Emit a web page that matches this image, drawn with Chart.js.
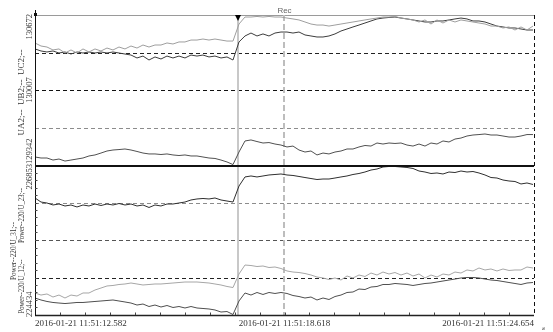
<!DOCTYPE html>
<html>
<head>
<meta charset="utf-8">
<script src="https://cdn.jsdelivr.net/npm/chart.js@4/dist/chart.umd.min.js"></script>
<style>
  html, body { margin: 0; padding: 0; background: #fff; }
  #wrap { width: 553px; height: 332px; }
</style>
</head>
<body>
<div id="wrap"><canvas id="rec" width="553" height="332"></canvas></div>
<script>
// Recorder capture 2016-01-21 11:51:12.582 .. 11:51:24.654 (seconds of minute 11:51)
const T_START = 12.582;
const T_END = 24.654;
const SAMPLE_STEP = 0.14515; // s between samples

const CURSOR_T = 17.469;   // solid cursor with marker
const REF_T = 18.618;      // dashed reference cursor ("Rec")

// ---- upper panel: UA2 / UB2 / UC2 --------------------------------
const ua2 = [130424,130397,130388,130362,130371,130335,130362,130335,130371,130344,
  130371,130353,130379,130362,130388,130371,130397,130379,130406,130388,
  130406,130406,130424,130415,130433,130433,130450,130450,130459,130450,
  130459,130450,130441,130441,130592,130654,130654,130659,130654,130659,
  130654,130654,130645,130637,130628,130610,130592,130583,130583,130574,
  130583,130592,130601,130610,130619,130628,130637,130645,130654,130654,
  130659,130645,130637,130628,130610,130628,130592,130628,130601,130628,
  130610,130628,130619,130610,130601,130592,130574,130574,130557,130566,
  130539,130566,130539,130574];
const ub2 = [130371,130353,130344,130353,130335,130344,130326,130344,130335,130344,
  130335,130344,130335,130344,130335,130326,130317,130291,130308,130273,
  130300,130282,130308,130291,130308,130291,130317,130308,130317,130300,
  130308,130291,130300,130273,130433,130486,130512,130486,130504,130486,
  130512,130521,130521,130512,130521,130495,130486,130477,130477,130486,
  130504,130530,130548,130566,130583,130601,130619,130637,130645,130650,
  130654,130645,130637,130628,130619,130610,130610,130619,130619,130628,
  130637,130645,130637,130619,130619,130610,130592,130574,130566,130557,
  130557,130548,130539,130539];
const uc2 = [129413,129404,129404,129386,129395,129377,129386,129395,129404,129422,
  129431,129448,129466,129475,129479,129484,129475,129462,129448,129440,
  129440,129435,129440,129431,129426,129431,129422,129422,129413,129404,
  129400,129386,129369,129346,129457,129555,129564,129550,129537,129541,
  129528,129519,129502,129510,129475,129457,129466,129431,129448,129440,
  129457,129466,129484,129484,129502,129515,129510,129537,129528,129537,
  129533,129537,129519,129510,129528,129510,129537,129528,129555,129546,
  129572,129581,129599,129608,129612,129617,129608,129608,129599,129590,
  129590,129599,129612,129612];

// ---- lower panel: Power-220/U_12 / U_23 / U_31 --------------------
const u23 = [226321,226256,226240,226208,226224,226192,226208,226176,226208,226192,
  226224,226200,226224,226208,226232,226208,226224,226192,226208,226168,
  226208,226192,226224,226224,226240,226256,226289,226305,226313,226305,
  226321,226289,226272,226256,226514,226660,226676,226660,226676,226692,
  226700,226708,226692,226684,226668,226651,226635,226619,226627,226627,
  226643,226660,226676,226700,226716,226740,226772,226788,226821,226829,
  226829,226821,226813,226797,226756,226740,226716,226724,226708,226740,
  226732,226756,226740,226748,226724,226692,226651,226643,226611,226595,
  226587,226547,226563,226539];
const u31 = [224789,224756,224773,224724,224756,224708,224756,224740,224789,224789,
  224837,224869,224902,224910,224926,224934,224950,224934,224918,224926,
  224934,224934,224942,224950,224958,224966,224966,224966,224958,224950,
  224934,224918,224894,224877,225095,225240,225232,225216,225224,225200,
  225208,225184,225144,225127,225119,225103,225079,225047,225031,225006,
  225031,224998,225063,225031,225079,225055,225111,225079,225127,225095,
  225119,225079,225111,225063,225095,225031,225079,225047,225095,225079,
  225127,225111,225160,225144,225192,225160,225176,225144,225176,225152,
  225160,225160,225208,225192];
const u12 = [224708,224676,224652,224636,224627,224619,224627,224636,224636,224644,
  224652,224660,224668,224676,224660,224644,224627,224595,224611,224571,
  224595,224563,224587,224555,224571,224547,224571,224547,224539,224531,
  224515,224482,224490,224442,224660,224789,224756,224797,224765,224797,
  224781,224797,224781,224748,224732,224708,224724,224676,224708,224684,
  224732,224756,224797,224805,224853,224845,224885,224894,224926,224926,
  224942,224934,224926,224910,224926,224942,224950,224966,224982,224998,
  225014,225031,225039,225039,225031,225014,224998,224990,224974,224958,
  224942,224926,224950,224958];

// axis ticks (min -> max) and their printed labels
const topTicks = [129342, 129674.5, 130007, 130339.5, 130672];
const botTicks = [224434, 225038.75, 225643.5, 226248.25, 226853];
const topLegend = "UA2;--  UB2;--  UC2;--";
const botLegend = ["Power--220/U_12;--", "Power--220/U_23;--", "Power--220/U_31;--"];
const xTickTimes = [T_START, REF_T, T_END];
const xTickLabels = ["2016-01-21 11:51:12.582", "2016-01-21 11:51:18.618", "2016-01-21 11:51:24.654"];

// guide-line look per tick index (null = not drawn here)
const TOP_GUIDES = [null, { c: "#8c8c8c", d: [4, 3] }, { c: "#111", d: [4, 3] }, { c: "#222", d: [4, 3] }, { c: "#9a9a9a", d: [] }];
const BOT_GUIDES = [null, { c: "#222", d: [4, 3] }, { c: "#555", d: [4, 3] }, { c: "#8c8c8c", d: [4, 3] }, null];

const SERIF = "'Liberation Serif', 'DejaVu Serif', serif";
const SANS = "'Liberation Sans', 'DejaVu Sans', sans-serif";

function trace(label, values, axis, color) {
  return {
    label,
    data: values.map((v, i) => ({ x: T_START + i * SAMPLE_STEP, y: v })),
    yAxisID: axis,
    borderColor: color,
    borderWidth: 1,
    pointRadius: 0,
    tension: 0,
  };
}

const snap = (p) => Math.round(p) + 0.5;

function line(ctx, x0, y0, x1, y1, color, width, dash) {
  ctx.beginPath();
  ctx.setLineDash(dash || []);
  ctx.strokeStyle = color;
  ctx.lineWidth = width;
  ctx.moveTo(x0, y0);
  ctx.lineTo(x1, y1);
  ctx.stroke();
}

function upText(ctx, text, x, y, align, maxW) {
  ctx.save();
  ctx.translate(x, y);
  ctx.rotate(-Math.PI / 2);
  ctx.textAlign = align;
  ctx.textBaseline = "middle";
  if (maxW) ctx.fillText(text, 0, 0, maxW);
  else ctx.fillText(text, 0, 0);
  ctx.restore();
}

const recorderDecor = {
  id: "recorderDecor",
  beforeDatasetsDraw(chart) {
    const { ctx, chartArea: a, scales } = chart;
    ctx.save();
    // horizontal guides
    [[scales.yTop, topTicks, TOP_GUIDES], [scales.yBot, botTicks, BOT_GUIDES]].forEach(([sc, ticks, guides]) => {
      ticks.forEach((v, i) => {
        const g = guides[i];
        if (!g) return;
        const y = snap(sc.getPixelForValue(v));
        line(ctx, a.left, y, a.right, y, g.c, 1, g.d);
      });
    });
    // cursors
    const xc = Math.round(scales.x.getPixelForValue(CURSOR_T)) + 1;
    line(ctx, xc, a.top, xc, a.bottom, "#c8c8c8", 2, []);
    const xr = Math.round(scales.x.getPixelForValue(REF_T));
    line(ctx, xr, a.top, xr, a.bottom, "#bdbdbd", 2, [6, 3]);
    ctx.restore();
  },
  afterDatasetsDraw(chart) {
    const { ctx, chartArea: a, scales } = chart;
    const { x: xs, yTop, yBot } = scales;
    ctx.save();
    // frame
    line(ctx, snap(a.right), a.top, snap(a.right), a.bottom, "#111", 1, [4, 3]);
    line(ctx, a.left, yTop.bottom + 1, a.right, yTop.bottom + 1, "#111", 2, []);
    line(ctx, a.left, snap(a.bottom), a.right, snap(a.bottom), "#222", 1.5, []);
    line(ctx, snap(a.left), a.top - 5, snap(a.left), a.bottom + 1, "#111", 1, []);
    ctx.fillStyle = "#111";
    ctx.fillRect(a.left - 1, a.top - 2, 3, 3);

    // minor ticks, pointing inward
    for (let k = 1; k < 20; k++) {
      const px = snap(xs.getPixelForValue(T_START + (T_END - T_START) * k / 20));
      line(ctx, px, a.bottom, px, a.bottom - 2.5, "#444", 1, []);
      const py = snap(yBot.getPixelForValue(botTicks[0] + (botTicks[4] - botTicks[0]) * k / 20));
      line(ctx, a.left, py, a.left + 2.5, py, "#444", 1, []);
    }

    // cursor marker
    const xc = Math.round(xs.getPixelForValue(CURSOR_T)) + 1;
    ctx.beginPath();
    ctx.moveTo(xc - 3, a.top);
    ctx.lineTo(xc + 3, a.top);
    ctx.lineTo(xc, a.top + 6);
    ctx.closePath();
    ctx.fillStyle = "#000";
    ctx.fill();

    // "Rec" over the reference cursor
    ctx.fillStyle = "#666";
    ctx.font = "8px " + SANS;
    ctx.textAlign = "center";
    ctx.textBaseline = "alphabetic";
    ctx.fillText("Rec", xs.getPixelForValue(REF_T), 13);

    // time labels
    ctx.fillStyle = "#333";
    ctx.font = "9px " + SERIF;
    const aligns = ["left", "center", "right"];
    xTickTimes.forEach((t, i) => {
      ctx.textAlign = aligns[i];
      ctx.fillText(xTickLabels[i], xs.getPixelForValue(t), 326);
    });
    ctx.font = "7px " + SERIF;
    upText(ctx, "s", 543, 330, "left");

    // y labels
    ctx.font = "8.5px " + SERIF;
    upText(ctx, String(topTicks[4]), 30, yTop.top - 1, "right");
    upText(ctx, String(topTicks[2]), 30, yTop.getPixelForValue(topTicks[2]), "center");
    upText(ctx, String(topTicks[0]), 30, yTop.bottom - 1, "left");
    upText(ctx, String(botTicks[4]), 30, yBot.top - 1, "right");
    upText(ctx, String(botTicks[0]), 30, yBot.bottom + 2, "left");
    ctx.font = "9px " + SERIF;
    upText(ctx, topLegend, 22, 92.5, "center", 86);
    upText(ctx, botLegend[0], 22, 286.5, "center", 54);
    upText(ctx, botLegend[1], 22, 215.5, "center", 55);
    upText(ctx, botLegend[2], 14, 251, "center", 58);
    ctx.restore();
  },
};

new Chart(document.getElementById("rec"), {
  type: "line",
  data: {
    datasets: [
      trace("UA2", ua2, "yTop", "#9e9e9e"),
      trace("UB2", ub2, "yTop", "#3c3c3c"),
      trace("UC2", uc2, "yTop", "#505050"),
      trace("Power--220/U_23", u23, "yBot", "#2e2e2e"),
      trace("Power--220/U_31", u31, "yBot", "#a6a6a6"),
      trace("Power--220/U_12", u12, "yBot", "#4e4e4e"),
    ],
  },
  options: {
    responsive: false,
    animation: false,
    events: [],
    layout: { padding: { left: 35, top: 15, right: 19, bottom: 17 } },
    plugins: { legend: { display: false }, tooltip: { enabled: false } },
    scales: {
      x: { type: "linear", min: T_START, max: T_END, display: false },
      yBot: { type: "linear", position: "left", stack: "rec", stackWeight: 1,
              min: botTicks[0], max: botTicks[4], display: false },
      yTop: { type: "linear", position: "left", stack: "rec", stackWeight: 1,
              min: topTicks[0], max: topTicks[4], display: false },
    },
  },
  plugins: [recorderDecor],
});
</script>
</body>
</html>
